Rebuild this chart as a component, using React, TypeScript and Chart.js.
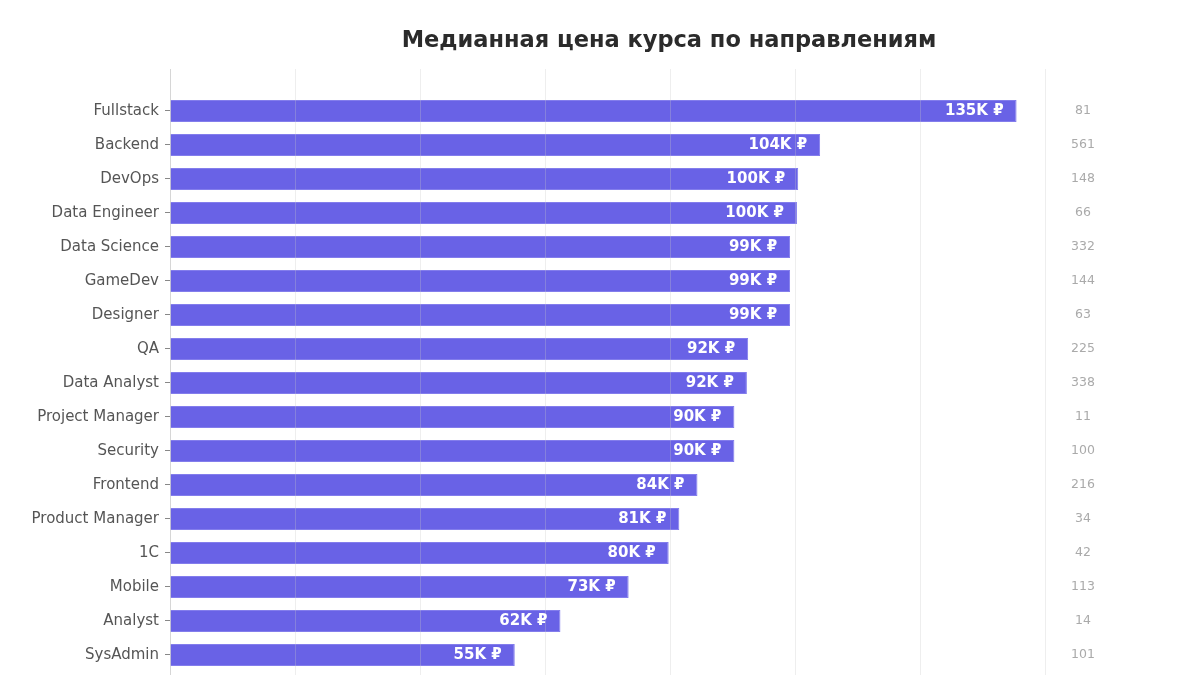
import { useEffect, useRef } from "react";
import { Chart, registerables } from "chart.js";

Chart.register(...registerables);

const TITLE = "Медианная цена курса по направлениям";

// directions, top to bottom
const categories = [
  "Fullstack",
  "Backend",
  "DevOps",
  "Data Engineer",
  "Data Science",
  "GameDev",
  "Designer",
  "QA",
  "Data Analyst",
  "Project Manager",
  "Security",
  "Frontend",
  "Product Manager",
  "1C",
  "Mobile",
  "Analyst",
  "SysAdmin",
];

// median price, thousands of rubles
const medianPriceK = [
  135.3, 103.9, 100.4, 100.2, 99.1, 99.1, 99.1, 92.4, 92.2, 90.2, 90.2, 84.3, 81.4, 79.7, 73.3, 62.4, 55.1,
];

// number of courses per direction
const courseCounts = [81, 561, 148, 66, 332, 144, 63, 225, 338, 11, 100, 216, 34, 42, 113, 14, 101];

const FONT = "'DejaVu Sans', Verdana, sans-serif";

export default function App() {
  const canvasRef = useRef<HTMLCanvasElement>(null);
  const chartRef = useRef<Chart | null>(null);

  useEffect(() => {
    document.body.style.margin = "0";
    if (!canvasRef.current) return;
    const ctx = canvasRef.current.getContext("2d");
    if (!ctx) return;

    // title centred over the plot area, plus bar labels and course counts
    const annotations = {
      id: "annotations",
      afterDraw(chart: any) {
        const { ctx, chartArea } = chart;
        const xScale = chart.scales.x;
        ctx.save();
        ctx.textBaseline = "middle";

        ctx.fillStyle = "#2b2b2b";
        ctx.font = `bold 22.5px ${FONT}`;
        ctx.textAlign = "center";
        ctx.fillText(TITLE, (chartArea.left + chartArea.right) / 2, 41);

        const bars = chart.getDatasetMeta(0).data;
        bars.forEach((bar: any, i: number) => {
          ctx.fillStyle = "#ffffff";
          ctx.font = `bold 15px ${FONT}`;
          ctx.textAlign = "right";
          ctx.fillText(`${Math.round(medianPriceK[i])}K ₽`, bar.x - 13, bar.y);

          ctx.fillStyle = "#aaaaaa";
          ctx.font = `12.5px ${FONT}`;
          ctx.textAlign = "center";
          ctx.fillText(String(courseCounts[i]), xScale.getPixelForValue(145.9), bar.y);
        });
        ctx.restore();
      },
    };

    chartRef.current = new Chart(ctx, {
      type: "bar",
      data: {
        datasets: [
          {
            data: medianPriceK.map((v, i) => ({ x: v, y: i })),
            backgroundColor: "#6962e6",
            borderColor: "#837dec",
            borderWidth: 1,
            barPercentage: 0.65,
            categoryPercentage: 1,
          },
        ],
      },
      options: {
        indexAxis: "y",
        animation: false,
        responsive: true,
        maintainAspectRatio: false,
        layout: { padding: { top: 69, right: 32, left: 0, bottom: 0 } },
        plugins: {
          legend: { display: false },
          title: { display: false },
          tooltip: { enabled: false },
        },
        scales: {
          x: {
            type: "linear",
            min: 0,
            max: 159.5,
            afterFit: (scale: any) => {
              scale.height = 0;
              scale.paddingLeft = 0;
              scale.paddingRight = 0;
            },
            grid: { color: "rgba(200,200,200,0.3)", drawTicks: false, z: 1 },
            border: { display: false },
            ticks: { display: false, stepSize: 20, includeBounds: false },
          },
          y: {
            type: "linear",
            reverse: true,
            offset: false,
            min: -1.235,
            max: 16.59,
            afterBuildTicks: (scale: any) => {
              scale.ticks = scale.ticks.filter(
                (t: any) => Number.isInteger(t.value) && t.value >= 0 && t.value < categories.length
              );
            },
            afterFit: (scale: any) => {
              scale.width = 170;
              scale.paddingTop = 0;
              scale.paddingBottom = 0;
            },
            grid: { offset: false, drawOnChartArea: false, tickLength: 5, tickColor: "#888888" },
            border: { display: true, color: "#dddddd" },
            ticks: {
              stepSize: 1,
              autoSkip: false,
              includeBounds: false,
              padding: 6,
              color: "#555555",
              font: { family: FONT, size: 15 },
              callback: (v: any) => categories[v as number] ?? "",
            },
          },
        },
      },
      plugins: [annotations],
    } as any);

    return () => {
      if (chartRef.current) {
        chartRef.current.destroy();
        chartRef.current = null;
      }
    };
  }, []);

  return (
    <div style={{ width: 1200, height: 675, position: "relative", background: "#ffffff" }}>
      <canvas ref={canvasRef} />
    </div>
  );
}
